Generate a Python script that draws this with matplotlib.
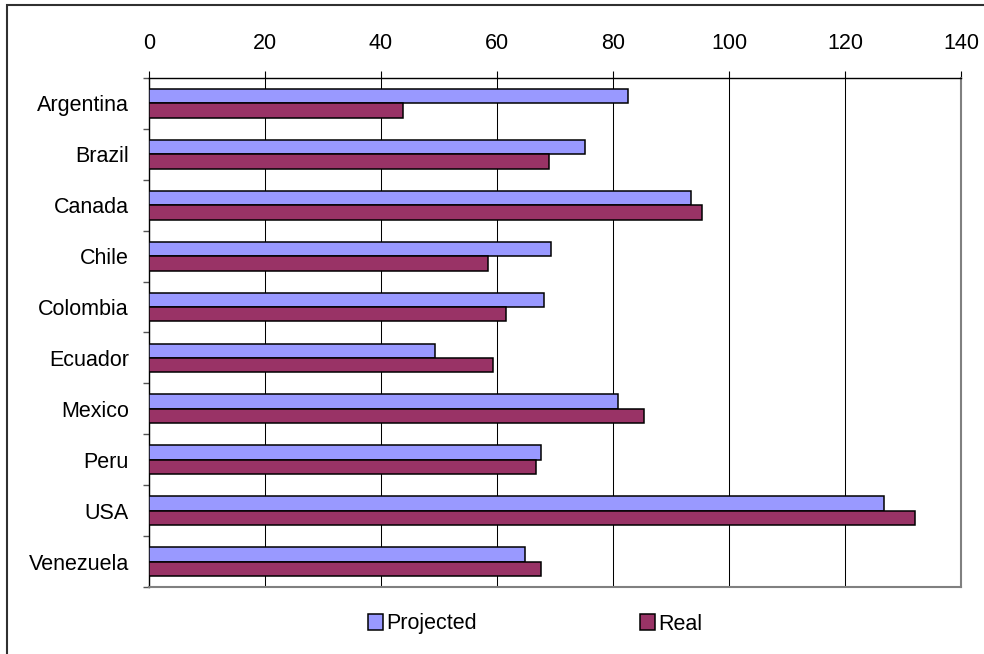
import matplotlib
matplotlib.use("Agg")
import matplotlib.pyplot as plt
import numpy as np
from matplotlib.patches import Rectangle

countries = ["Argentina", "Brazil", "Canada", "Chile", "Colombia",
             "Ecuador", "Mexico", "Peru", "USA", "Venezuela"]
projected = [82.5, 75.2, 93.4, 69.3, 68.1, 49.3, 80.9, 67.5, 126.7, 64.8]
real = [43.8, 68.9, 95.3, 58.5, 61.5, 59.3, 85.3, 66.8, 132.0, 67.6]
x_ticks = [0, 20, 40, 60, 80, 100, 120, 140]

plt.rcParams["font.family"] = ["Liberation Sans", "DejaVu Sans"]
FS = 15.5

fig = plt.figure(figsize=(9.84, 6.54), dpi=100)
ax = fig.add_axes([149 / 984, 1 - 587 / 654, 812 / 984, 509 / 654])

y = np.arange(len(countries))
h = 0.282
bars_p = ax.barh(y - h / 2, projected, height=h, color="#9999FF",
                 edgecolor="black", linewidth=1.1, label="Projected", zorder=3)
bars_r = ax.barh(y + h / 2, real, height=h, color="#993366",
                 edgecolor="black", linewidth=1.1, label="Real", zorder=3)

ax.set_xlim(0, 140)
ax.set_ylim(len(countries) - 0.5, -0.5)

# value axis along the top
ax.xaxis.set_ticks_position("top")
ax.xaxis.set_label_position("top")
ax.set_xticks(x_ticks)
ax.set_xticklabels([str(v) for v in x_ticks], fontsize=FS)
ax.tick_params(axis="x", which="major", direction="out", length=5,
               width=0.8, color="black", pad=12.5)
ax.grid(axis="x", color="black", linewidth=0.75, zorder=0)

# category axis: labels at centres, tick marks at the band boundaries
ax.set_yticks(y)
ax.set_yticklabels(countries, fontsize=FS)
ax.tick_params(axis="y", which="major", length=0, pad=14.5)
ax.set_yticks(np.arange(-0.5, len(countries)), minor=True)
ax.tick_params(axis="y", which="minor", direction="out", length=4.5,
               width=1.0, color="#555555")

for side in ("top", "left"):
    ax.spines[side].set_color("black")
    ax.spines[side].set_linewidth(1.0)
for side in ("right", "bottom"):
    ax.spines[side].set_color("#808080")
    ax.spines[side].set_linewidth(1.5)

fig.legend(handles=[bars_p, bars_r], labels=["Projected", "Real"],
           loc="center", bbox_to_anchor=(535 / 984, 1 - 624 / 654),
           ncol=2, frameon=False, fontsize=FS, handlelength=0.7,
           handleheight=0.7, handletextpad=0.15, columnspacing=7.6,
           borderpad=0)

# outer chart border
fig.patches.append(Rectangle((7 / 984, -0.1), 1.2, 1.1 - 5 / 654,
                             transform=fig.transFigure, fill=False,
                             edgecolor="#303030", linewidth=1.5))

fig.savefig("out.png", dpi=100)
